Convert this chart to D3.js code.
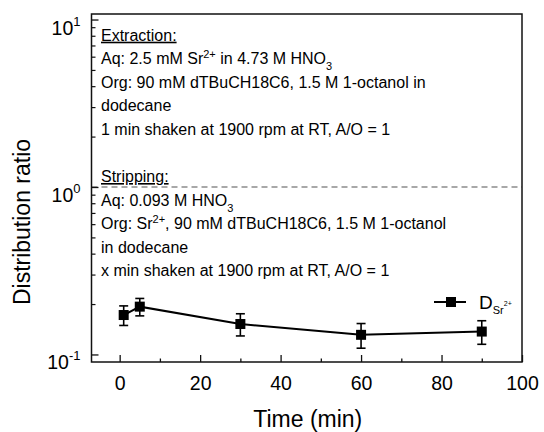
<!DOCTYPE html>
<html>
<head>
<meta charset="utf-8">
<script src="https://cdn.jsdelivr.net/npm/d3@7"></script>
<style>
  html, body { margin: 0; padding: 0; background: #fff; }
  svg { display: block; font-family: "Liberation Sans", Arial, sans-serif; }
</style>
</head>
<body>
<svg id="chart" width="544" height="432"></svg>
<script>
// ---- data ----
const times = [1, 5, 30, 60, 90];
const dValues = [0.172, 0.193, 0.152, 0.131, 0.137];
const dErrors = [0.023, 0.023, 0.023, 0.022, 0.022];
const xTicks = [0, 20, 40, 60, 80, 100];
const xMinorTicks = [10, 30, 50, 70, 90];
const yTickExps = [-1, 0, 1];
const refLine = 1;
const seriesName = ["D", "Sr", "2+"];
const xTitle = "Time (min)";
const yTitle = "Distribution ratio";
// annotation lines: [text, mode] segments; mode: n normal, sup, sub, u underline
const noteLines = [
  [["Extraction:", "u"]],
  [["Aq: 2.5 mM Sr", "n"], ["2+", "sup"], [" in 4.73 M HNO", "n"], ["3", "sub"]],
  [["Org: 90 mM dTBuCH18C6, 1.5 M 1-octanol in", "n"]],
  [["dodecane", "n"]],
  [["1 min shaken at 1900 rpm at RT, A/O = 1", "n"]],
  [],
  [["Stripping:", "u"]],
  [["Aq: 0.093 M HNO", "n"], ["3", "sub"]],
  [["Org: Sr", "n"], ["2+", "sup"], [", 90 mM dTBuCH18C6, 1.5 M 1-octanol", "n"]],
  [["in dodecane", "n"]],
  [["x min shaken at 1900 rpm at RT, A/O = 1", "n"]]
];

// ---- layout ----
const svg = d3.select("#chart");
const L = 91.5, R = 522, T = 14, B = 362;
const x = d3.scaleLinear().domain([-7, 100]).range([L, R]);
const y = d3.scaleLog().domain([Math.pow(10, -1.045), Math.pow(10, 1.033)]).range([B, T]);
const ink = "#111";

// dashed reference line
svg.append("line")
  .attr("x1", L).attr("x2", R)
  .attr("y1", y(refLine)).attr("y2", y(refLine))
  .attr("stroke", "#8c8c8c").attr("stroke-width", 1.5)
  .attr("stroke-dasharray", "6,4");

// x axis (ticks inward)
const xAxis = svg.append("g").attr("transform", `translate(0,${B})`)
  .call(d3.axisBottom(x).tickValues(xTicks).tickSize(-7).tickSizeOuter(0).tickPadding(14).tickFormat(d3.format("d")));
xAxis.select(".domain").remove();
xAxis.selectAll(".tick line").attr("stroke", ink).attr("stroke-width", 1.3);
xAxis.selectAll(".tick text").attr("font-size", 19.5).attr("fill", "#000")
  .attr("font-family", "Liberation Sans, Arial, sans-serif");
svg.append("g").attr("transform", `translate(0,${B})`)
  .call(d3.axisBottom(x).tickValues(xMinorTicks).tickSize(-3.5).tickSizeOuter(0).tickFormat(""))
  .call(g => g.select(".domain").remove())
  .selectAll(".tick line").attr("stroke", ink).attr("stroke-width", 1.3);

// y axis (log, ticks inward)
const yMajor = yTickExps.map(e => Math.pow(10, e));
const yMinor = [];
[-2, -1, 0, 1].forEach(e => { for (let k = 2; k <= 9; k++) { const v = k * Math.pow(10, e); const d = y.domain(); if (v >= d[0] && v <= d[1]) yMinor.push(v); } });
const yAx = svg.append("g").attr("transform", `translate(${L},0)`)
  .call(d3.axisLeft(y).tickValues(yMajor).tickSize(-7).tickSizeOuter(0).tickFormat(""));
yAx.select(".domain").remove();
yAx.selectAll(".tick line").attr("stroke", ink).attr("stroke-width", 1.3);
svg.append("g").attr("transform", `translate(${L},0)`)
  .call(d3.axisLeft(y).tickValues(yMinor).tickSize(-4).tickSizeOuter(0).tickFormat(""))
  .call(g => g.select(".domain").remove())
  .selectAll(".tick line").attr("stroke", ink).attr("stroke-width", 1.2);
// y tick labels 10^n
const yl = svg.append("g");
yTickExps.forEach(e => {
  const t = yl.append("text").attr("x", L - 11).attr("y", y(Math.pow(10, e)) + 15)
    .attr("text-anchor", "end").attr("font-size", 19.5).attr("fill", "#000");
  t.append("tspan").text("10");
  t.append("tspan").attr("font-size", 13).attr("dy", -9).text(e === -1 ? "-1" : String(e));
});

// frame
svg.append("rect").attr("x", L).attr("y", T).attr("width", R - L).attr("height", B - T)
  .attr("fill", "none").attr("stroke", ink).attr("stroke-width", 1.5);

// axis titles
svg.append("text").attr("x", (L + R) / 2 + 1).attr("y", 427)
  .attr("text-anchor", "middle").attr("font-size", 23).attr("fill", "#000").text(xTitle);
svg.append("text").attr("transform", `translate(30,222) rotate(-90)`)
  .attr("text-anchor", "middle").attr("font-size", 23).attr("fill", "#000").text(yTitle);

// annotation text block
const note = svg.append("g");
noteLines.forEach((segs, i) => {
  if (!segs.length) return;
  const t = note.append("text").attr("x", 101).attr("y", 40.7 + i * 23.55)
    .attr("font-size", 16).attr("fill", "#000");
  segs.forEach(([s, m]) => {
    const sp = t.append("tspan").text(s);
    if (m === "u") sp.attr("text-decoration", "underline");
    if (m === "sup") sp.attr("font-size", 11).attr("baseline-shift", "super");
    if (m === "sub") sp.attr("font-size", 11).attr("baseline-shift", "sub");
  });
});

// data
const pts = times.map((t, i) => ({ t, v: dValues[i], e: dErrors[i] }));
svg.append("path").datum(pts)
  .attr("d", d3.line().x(d => x(d.t)).y(d => y(d.v)))
  .attr("fill", "none").attr("stroke", "#000").attr("stroke-width", 2);
const eb = svg.append("g").attr("stroke", "#000").attr("stroke-width", 1.6);
pts.forEach(d => {
  const cx = x(d.t), y1 = y(d.v + d.e), y2 = y(d.v - d.e);
  eb.append("line").attr("x1", cx).attr("x2", cx).attr("y1", y1).attr("y2", y2);
  eb.append("line").attr("x1", cx - 4.5).attr("x2", cx + 4.5).attr("y1", y1).attr("y2", y1);
  eb.append("line").attr("x1", cx - 4.5).attr("x2", cx + 4.5).attr("y1", y2).attr("y2", y2);
});
svg.append("g").selectAll("rect").data(pts).join("rect")
  .attr("x", d => x(d.t) - 5).attr("y", d => y(d.v) - 5)
  .attr("width", 10).attr("height", 10).attr("fill", "#000");

// legend
const lg = svg.append("g");
lg.append("line").attr("x1", 434).attr("x2", 466).attr("y1", 302).attr("y2", 302)
  .attr("stroke", "#000").attr("stroke-width", 2);
lg.append("rect").attr("x", 446).attr("y", 297).attr("width", 10).attr("height", 10).attr("fill", "#000");
const lt = lg.append("text").attr("x", 479).attr("y", 308.5).attr("font-size", 19).attr("fill", "#000");
lt.append("tspan").text(seriesName[0]);
lt.append("tspan").attr("font-size", 11).attr("dy", 5).text(seriesName[1]);
lt.append("tspan").attr("font-size", 7).attr("dy", -8).text(seriesName[2]);
</script>
</body>
</html>
